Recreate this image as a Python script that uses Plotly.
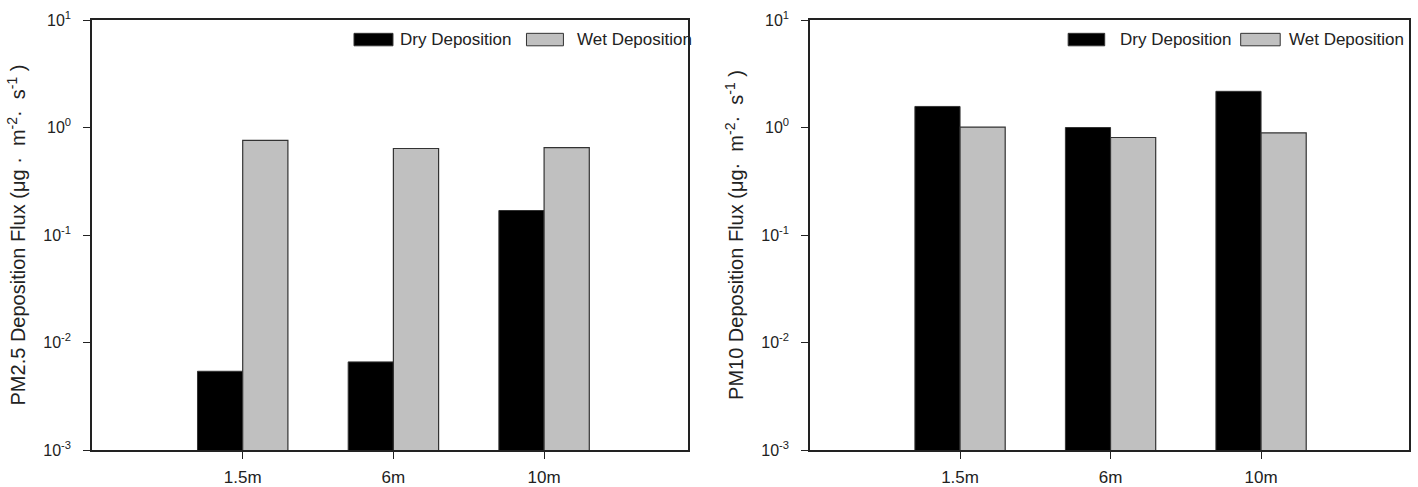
import plotly.graph_objects as go
from plotly.subplots import make_subplots

heights = ["1.5m", "6m", "10m"]
pm25_dry = [0.0054, 0.0066, 0.169]
pm25_wet = [0.76, 0.638, 0.651]
pm10_dry = [1.57, 1.0, 2.17]
pm10_wet = [1.01, 0.807, 0.89]
series_names = ["Dry Deposition", "Wet Deposition"]
ytick_vals = [0.001, 0.01, 0.1, 1, 10]
ytick_text = ["10<sup>-3</sup>", "10<sup>-2</sup>", "10<sup>-1</sup>", "10<sup>0</sup>", "10<sup>1</sup>"]

FONT = "Liberation Sans, Arial, sans-serif"
DRY_C = "#000000"
WET_C = "#c0c0c0"
EDGE = "#333333"
NB = "\u00a0"

W, H = 1418, 487
fig = make_subplots(rows=1, cols=2)

for col, (dry, wet) in enumerate([(pm25_dry, pm25_wet), (pm10_dry, pm10_wet)], start=1):
    fig.add_trace(go.Bar(x=heights, y=dry, name=series_names[0], marker_color=DRY_C,
                         marker_line=dict(color=EDGE, width=1), showlegend=False), row=1, col=col)
    fig.add_trace(go.Bar(x=heights, y=wet, name=series_names[1], marker_color=WET_C,
                         marker_line=dict(color=EDGE, width=1.2), showlegend=False), row=1, col=col)

left_dom = [92 / W, 688 / W]
right_dom = [810 / W, 1409 / W]

common_y = dict(type="log", range=[-3, 1], tickvals=ytick_vals, ticktext=ytick_text,
                ticks="outside", ticklen=7, tickwidth=1.2, tickcolor="#222",
                showline=True, linecolor="#222", linewidth=1.5, mirror=True,
                showgrid=False, zeroline=False, ticklabelstandoff=9,
                tickfont=dict(family=FONT, size=16, color="#222"))
common_x = dict(ticks="outside", ticklen=7, tickwidth=1.2, tickcolor="#222",
                showline=True, linecolor="#222", linewidth=1.5, mirror=True,
                showgrid=False, zeroline=False, ticklabelstandoff=4,
                tickfont=dict(family=FONT, size=17, color="#222"))

title_left = ("PM2.5 Deposition Flux (μg" + NB + "·" + NB + NB + "m<sup>-2</sup>·" + NB + NB
              + "s<sup>-1</sup>" + NB + ")")
title_right = ("PM10 Deposition Flux (μg·" + NB + NB + "m<sup>-2</sup>·" + NB + NB
               + "s<sup>-1</sup>" + NB + ")")

fig.update_xaxes(**common_x)
fig.update_yaxes(**common_y)
fig.update_layout(
    xaxis=dict(domain=left_dom, range=[-1, 2.955]),
    xaxis2=dict(domain=right_dom, range=[-0.997, 2.983]),
    yaxis=dict(domain=[0, 1], title=dict(text=title_left,
                                         font=dict(family=FONT, size=20, color="#222"), standoff=12)),
    yaxis2=dict(domain=[0, 1], title=dict(text=title_right,
                                          font=dict(family=FONT, size=20, color="#222"), standoff=12)),
    barmode="group", bargap=0.4, bargroupgap=0,
    width=W, height=H,
    margin=dict(l=0, r=0, t=20, b=32),
    paper_bgcolor="white", plot_bgcolor="white",
    font=dict(family=FONT, color="#222"),
)

# legends drawn inside each panel (top right)
legend_specs = [
    ("x domain", "y domain", [(0.4396, 0.505, 0.513), (0.729, 0.791, 0.810)]),
    ("x2 domain", "y2 domain", [(0.431, 0.492, 0.514), (0.719, 0.785, 0.796)]),
]
for xr, yr, items in legend_specs:
    for (x0, x1, tx), name, color in zip(items, series_names, [DRY_C, WET_C]):
        fig.add_shape(type="rect", xref=xr, yref=yr, x0=x0, x1=x1, y0=0.940, y1=0.969,
                      fillcolor=color, line=dict(color=EDGE, width=1))
        fig.add_annotation(xref=xr, yref=yr, x=tx, y=0.955, text=name, showarrow=False,
                           xanchor="left", yanchor="middle",
                           font=dict(family=FONT, size=17, color="#222"))

fig.write_html("out.html")
